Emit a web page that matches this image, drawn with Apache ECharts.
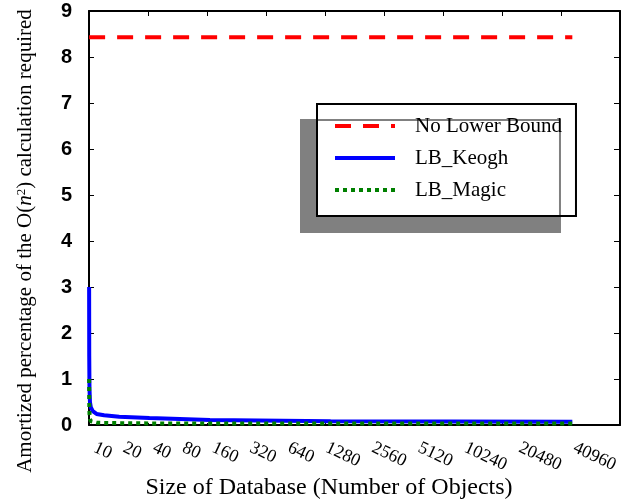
<!DOCTYPE html>
<html>
<head>
<meta charset="utf-8">
<script src="https://cdn.jsdelivr.net/npm/echarts@6/dist/echarts.min.js"></script>
<style>
  html, body { margin: 0; padding: 0; background: #fff; }
  #chart { width: 629px; height: 502px; }
</style>
</head>
<body>
<div id="chart"></div>
<script>
// ---- data ----
const sizes = [10, 20, 40, 80, 160, 320, 640, 1280, 2560, 5120, 10240, 20480, 40960];
const noLowerBound = [8.43, 8.43, 8.43, 8.43, 8.43, 8.43, 8.43, 8.43, 8.43, 8.43, 8.43, 8.43, 8.43];
const lbKeogh = [3.0, 1.5, 0.8, 0.5, 0.38, 0.3, 0.24, 0.21, 0.18, 0.15, 0.11, 0.08, 0.07];
const lbMagic = [1.0, 0.5, 0.25, 0.13, 0.08, 0.06, 0.05, 0.045, 0.04, 0.035, 0.03, 0.03, 0.03];
const xTickLabels = ['10', '20', '40', '80', '160', '320', '640', '1280', '2560', '5120', '10240', '20480', '40960'];
const seriesNames = ['No Lower Bound', 'LB_Keogh', 'LB_Magic'];

// ---- layout helpers ----
const GRID = { left: 89, right: 9, top: 11, bottom: 77 };
const plotWidth = 629 - GRID.left - GRID.right;
// the tick-label string is laid out as one run of rotated words
const digitStep = 8.3, wordGap = 13, firstOffset = 5.5;
const labelPos = [];
{
  let cur = firstOffset;
  xTickLabels.forEach(l => { labelPos.push(cur); cur += l.length * digitStep + wordGap; });
}
function labelFor(v) {
  let best = 0, bd = Infinity;
  labelPos.forEach((p, i) => { const d = Math.abs(p - v); if (d < bd) { bd = d; best = i; } });
  return xTickLabels[best];
}
const pairs = arr => sizes.map((s, i) => [s, arr[i]]);

const serif = 'Liberation Serif, Times New Roman, serif';
const sans = 'Liberation Sans, Arial, sans-serif';
const black = '#000';

const chart = echarts.init(document.getElementById('chart'), null, { renderer: 'canvas' });
chart.setOption({
  animation: false,
  backgroundColor: '#fff',
  grid: { left: GRID.left, right: GRID.right, top: GRID.top, bottom: GRID.bottom, containLabel: false, outerBoundsMode: 'none' },
  legend: {
    orient: 'vertical',
    left: 317, top: 104,
    data: seriesNames,
    itemWidth: 60, itemHeight: 14, itemGap: 10,
    padding: [11, 14, 15, 16],
    backgroundColor: '#fff',
    borderColor: black, borderWidth: 2, borderRadius: 0,
    shadowColor: '#808080', shadowBlur: 0, shadowOffsetX: -16, shadowOffsetY: 16,
    itemStyle: { opacity: 0 },
    lineStyle: { width: 4 },
    textStyle: { fontFamily: serif, fontSize: 21, color: black, lineHeight: 22, padding: [0, 0, 0, 15] }
  },
  xAxis: [
    {
      type: 'value', position: 'bottom', min: 0, max: 45000, interval: 5000,
      axisLine: { show: true, onZero: false, lineStyle: { color: black, width: 2 } },
      axisTick: { show: true, inside: true, length: 2, lineStyle: { color: black, width: 1 } },
      axisLabel: { show: false }, splitLine: { show: false },
      name: 'Size of Database (Number of Objects)', nameLocation: 'middle', nameGap: 51,
      nameTextStyle: { fontFamily: serif, fontSize: 24, color: black, padding: [0, 51, 0, 0] }
    },
    {
      type: 'value', position: 'top', min: 0, max: 45000, interval: 5000,
      axisLine: { show: true, onZero: false, lineStyle: { color: black, width: 2 } },
      axisTick: { show: true, inside: true, length: 5, lineStyle: { color: black, width: 1 } },
      axisLabel: { show: false }, splitLine: { show: false }
    },
    {
      type: 'value', position: 'bottom', min: 0, max: plotWidth,
      axisLine: { show: false }, axisTick: { show: false }, splitLine: { show: false },
      axisLabel: {
        show: true, customValues: labelPos, rotate: -25, margin: 22,
        align: 'left', verticalAlign: 'middle',
        fontFamily: serif, fontSize: 18, color: black,
        formatter: v => labelFor(v)
      }
    }
  ],
  yAxis: [
    {
      type: 'value', position: 'left', min: 0, max: 9, interval: 1,
      axisLine: { show: true, onZero: false, lineStyle: { color: black, width: 2 } },
      axisTick: { show: true, inside: true, length: 5, lineStyle: { color: black, width: 1 } },
      axisLabel: { show: true, margin: 17, fontFamily: sans, fontWeight: 'bold', fontSize: 20, color: black },
      splitLine: { show: false },
      name: 'Amortized percentage of the O({it|n}{sup|2}) calculation required',
      nameLocation: 'middle', nameGap: 53, nameRotate: 90,
      nameTextStyle: {
        fontFamily: serif, fontSize: 21, color: black, padding: [0, 46, 0, 0],
        rich: {
          it: { fontFamily: serif, fontSize: 21, fontStyle: 'italic', color: black },
          sup: { fontFamily: serif, fontSize: 13, color: black, verticalAlign: 'top' }
        }
      }
    },
    {
      type: 'value', position: 'right', min: 0, max: 9, interval: 1,
      axisLine: { show: true, onZero: false, lineStyle: { color: black, width: 2 } },
      axisTick: { show: true, inside: true, length: 6, lineStyle: { color: black, width: 1 } },
      axisLabel: { show: false }, splitLine: { show: false }
    }
  ],
  series: [
    {
      name: seriesNames[0], type: 'line', xAxisIndex: 0, yAxisIndex: 0,
      data: pairs(noLowerBound), symbol: 'none', smooth: false,
      lineStyle: { color: '#ff0000', width: 4, type: [16, 12] }, itemStyle: { color: '#ff0000' }, z: 3
    },
    {
      name: seriesNames[1], type: 'line', xAxisIndex: 0, yAxisIndex: 0,
      data: pairs(lbKeogh), symbol: 'none', smooth: false,
      lineStyle: { color: '#0000ff', width: 4, type: 'solid' }, itemStyle: { color: '#0000ff' }, z: 4
    },
    {
      name: seriesNames[2], type: 'line', xAxisIndex: 0, yAxisIndex: 0,
      data: pairs(lbMagic), symbol: 'none', smooth: false,
      lineStyle: { color: '#008000', width: 4, type: [4, 4] }, itemStyle: { color: '#008000' }, z: 5
    }
  ]
});
</script>
</body>
</html>
